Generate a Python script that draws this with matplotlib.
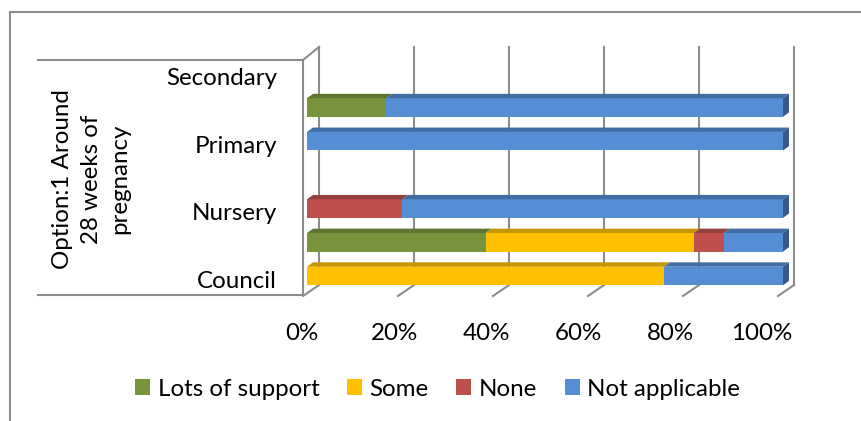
import numpy as np
import matplotlib.pyplot as plt
from matplotlib.patches import Polygon, Patch
from matplotlib.lines import Line2D

plt.rcParams['font.family'] = ['Lato', 'DejaVu Sans']

# 7 category slots, only every other one is labelled on the axis
categories = ['Council', '', 'Nursery', '', 'Primary', '', 'Secondary']
series = ['Lots of support', 'Some', 'None', 'Not applicable']
lots = [0, 37.5, 0, 0, 0, 16.7, 0]
some = [75, 43.75, 0, 0, 0, 0, 0]
none = [0, 6.25, 20, 0, 0, 0, 0]
na = [25, 12.5, 80, 0, 100, 83.3, 0]
ticks = [0, 20, 40, 60, 80, 100]
tick_labels = ['0%', '20%', '40%', '60%', '80%', '100%']

front = ['#77933C', '#FFC000', '#C0504D', '#558ED5']
top = ['#5E7530', '#C79500', '#94403D', '#416DA5']
side = ['#4D6127', '#A67C00', '#7A3532', '#355A8A']
grey = '#8C8C8C'

W, H = 861, 421
fig = plt.figure(figsize=(W / 100, H / 100), dpi=100)
ax = fig.add_axes([0, 0, 1, 1])

# scale: 0% at x=307px, 4.76 px per %, slot 0 at y=276px, 33.7 px per slot
sx, x0 = 4.76, 307
sy, y0 = 33.7, 276
ax.set_xlim(-x0 / sx, (W - x0) / sx)
ax.set_ylim((y0 - H) / sy, y0 / sy)
ax.axis('off')

def dx(p):
    return p / sx

def dy(p):
    return p / sy

# walls: front-left edge and back wall
fx = dx(303 - x0)
bx = dx(319 - x0)
ftop, fbot = dy(y0 - 60), dy(y0 - 296)
btop, bbot = dy(y0 - 47), dy(y0 - 285)
lw = 1.5
ax.plot([dx(38 - x0), fx], [ftop, ftop], color=grey, lw=lw, zorder=1)
ax.plot([dx(38 - x0), fx], [dy(y0 - 295), dy(y0 - 295)], color=grey, lw=lw, zorder=1)
ax.plot([fx, fx], [ftop, dy(y0 - 295)], color=grey, lw=lw, zorder=1)
ax.plot([fx, bx], [ftop, btop], color=grey, lw=lw, zorder=1)
for t in ticks:
    gx = bx + t * 475 / 476
    ax.plot([gx, gx], [btop, bbot], color=grey, lw=lw, zorder=1)
    ax.plot([gx, gx - dx(16)], [bbot, fbot], color=grey, lw=lw, zorder=1)

# stacked bars with a top face and a right side face
h = 0.55
ddx, ddy = dx(6), dy(4.4)
y = np.arange(len(categories))
left = np.zeros(len(categories))
for vals, fc, tc in zip([lots, some, none, na], front, top):
    vals = np.array(vals, dtype=float)
    ax.barh(y, vals, left=left, height=h, color=fc, zorder=3)
    for yi, l, v in zip(y, left, vals):
        if v <= 0:
            continue
        yt = yi + h / 2
        ax.add_patch(Polygon([(l, yt), (l + v, yt), (l + v + ddx, yt + ddy), (l + ddx, yt + ddy)],
                             closed=True, facecolor=tc, edgecolor='none', zorder=3))
    left = left + vals

stack = np.array([lots, some, none, na], dtype=float)
for yi in y:
    nz = np.nonzero(stack[:, yi])[0]
    if len(nz) == 0:
        continue
    r = stack[:, yi].sum()
    c = side[nz[-1]]
    ax.add_patch(Polygon([(r, yi - h / 2), (r, yi + h / 2), (r + ddx, yi + h / 2 + ddy), (r + ddx, yi - h / 2 + ddy)],
                         closed=True, facecolor=c, edgecolor='none', zorder=3))

fs = 17.4
# category labels
for yi, name in zip(y, categories):
    if name:
        ax.text(dx(277 - x0), yi - dy(5), name, ha='right', va='center', fontsize=fs)

# value axis labels
for t, lab in zip(ticks, tick_labels):
    ax.text(dx(302 - x0) + t * 92 / 95 / sx * 4.75, dy(y0 - 333), lab, ha='center', va='center', fontsize=fs)

ax.text(dx(91 - x0), dy(y0 - 179), 'Option:1 Around\n28 weeks of\npregnancy', rotation=90,
        ha='center', va='center', multialignment='center', fontsize=fs, linespacing=1.45)

handles = [Patch(facecolor=c, edgecolor='none') for c in front]
fig.legend(handles, series, loc='center', bbox_to_anchor=(437.5 / W, 1 - 389 / H), ncol=4,
           frameon=False, fontsize=fs, handlelength=0.62, handleheight=0.6,
           handletextpad=0.3, columnspacing=1.15)

# chart area border (left and top edges)
fig.add_artist(Line2D([10 / W, 10 / W], [0, 1 - 12 / H], color=grey, lw=1.5, transform=fig.transFigure))
fig.add_artist(Line2D([10 / W, 1], [1 - 12 / H, 1 - 12 / H], color=grey, lw=1.5, transform=fig.transFigure))

fig.savefig('out.png', dpi=100)
